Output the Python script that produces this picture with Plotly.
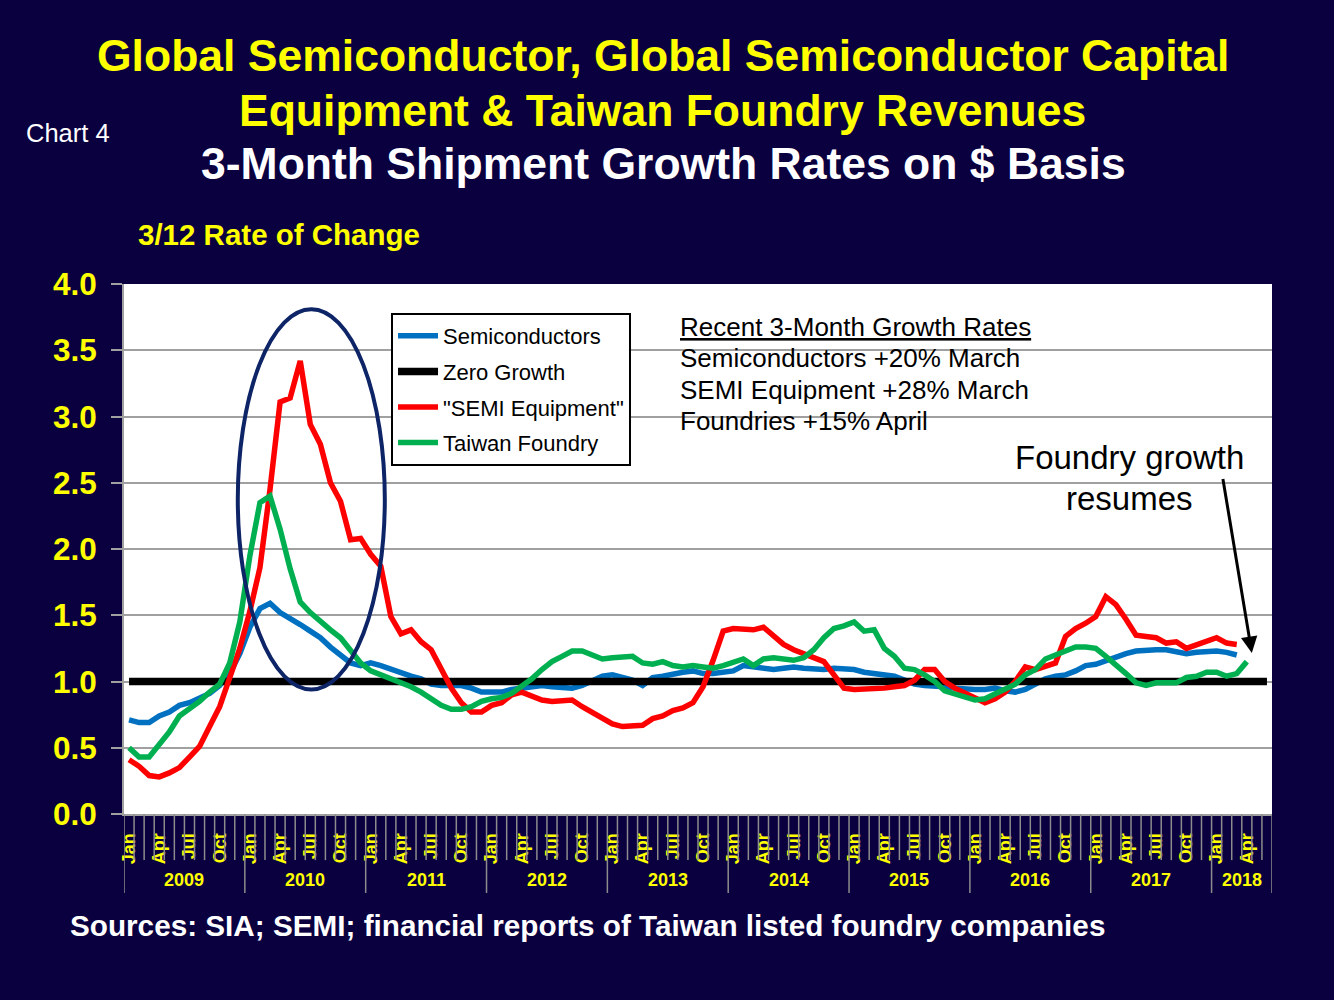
import plotly.graph_objects as go

# ---------------- data ----------------
years = [2009, 2010, 2011, 2012, 2013, 2014, 2015, 2016, 2017, 2018]
month_names = ["Jan", "Feb", "Mar", "Apr", "May", "Jun", "Jul", "Aug", "Sep", "Oct", "Nov", "Dec"]
months_2018 = 6  # axis runs Jan 2009 .. Jun 2018
months = [f"{m} {y}" for y in years for m in (month_names if y < 2018 else month_names[:months_2018])]
labelled_months = ["Jan", "Apr", "Jul", "Oct"]

semiconductors = [
    0.71, 0.69, 0.69, 0.74, 0.77, 0.82, 0.84, 0.87, 0.91, 0.97, 1.06, 1.21,
    1.41, 1.55, 1.59, 1.52, 1.48, 1.43, 1.38, 1.33, 1.26, 1.20, 1.14, 1.12,
    1.14, 1.12, 1.09, 1.06, 1.04, 1.02, 0.98, 0.97, 0.97, 0.97, 0.95, 0.92,
    0.92, 0.92, 0.94, 0.95, 0.96, 0.97, 0.96, 0.96, 0.95, 0.97, 1.01, 1.04,
    1.05, 1.03, 1.01, 0.97, 1.03, 1.04, 1.06, 1.07, 1.08, 1.06, 1.06, 1.07,
    1.08, 1.12, 1.11, 1.11, 1.09, 1.10, 1.11, 1.10, 1.09, 1.09, 1.10, 1.10,
    1.09, 1.07, 1.06, 1.06, 1.04, 1.01, 0.98, 0.97, 0.97, 0.96, 0.95, 0.94,
    0.94, 0.94, 0.95, 0.93, 0.92, 0.94, 0.98, 1.02, 1.04, 1.05, 1.08, 1.12,
    1.13, 1.16, 1.19, 1.21, 1.23, 1.24, 1.24, 1.24, 1.22, 1.21, 1.22, 1.23,
    1.23, 1.22, 1.20,
]

semi_equipment = [
    0.41, 0.36, 0.29, 0.28, 0.31, 0.35, 0.43, 0.51, 0.66, 0.81, 1.03, 1.25,
    1.53, 1.86, 2.45, 3.11, 3.14, 3.42, 2.94, 2.79, 2.50, 2.36, 2.07, 2.08,
    1.96, 1.87, 1.49, 1.36, 1.39, 1.30, 1.24, 1.09, 0.95, 0.84, 0.77, 0.77,
    0.82, 0.84, 0.90, 0.92, 0.89, 0.86, 0.85, 0.85, 0.86, 0.81, 0.77, 0.72,
    0.68, 0.66, 0.67, 0.67, 0.72, 0.74, 0.78, 0.80, 0.84, 0.96, 1.16, 1.38,
    1.40, 1.39, 1.39, 1.41, 1.34, 1.28, 1.24, 1.21, 1.17, 1.15, 1.05, 0.95,
    0.94, 0.94, 0.95, 0.95, 0.96, 0.97, 1.01, 1.09, 1.09, 1.00, 0.95, 0.91,
    0.87, 0.84, 0.87, 0.92, 1.00, 1.11, 1.09, 1.12, 1.14, 1.34, 1.40, 1.44,
    1.49, 1.64, 1.58, 1.47, 1.35, 1.34, 1.33, 1.29, 1.30, 1.25, 1.28, 1.31,
    1.33, 1.29, 1.28,
]

taiwan_foundry = [
    0.50, 0.43, 0.43, 0.52, 0.62, 0.74, 0.79, 0.85, 0.92, 0.98, 1.14, 1.45,
    1.95, 2.35, 2.40, 2.15, 1.85, 1.60, 1.52, 1.45, 1.39, 1.33, 1.23, 1.14,
    1.08, 1.05, 1.03, 0.99, 0.96, 0.92, 0.87, 0.82, 0.79, 0.79, 0.81, 0.85,
    0.87, 0.88, 0.91, 0.96, 1.02, 1.09, 1.15, 1.19, 1.23, 1.23, 1.20, 1.17,
    1.18, 1.18, 1.19, 1.14, 1.13, 1.15, 1.12, 1.11, 1.12, 1.11, 1.10, 1.12,
    1.14, 1.17, 1.12, 1.17, 1.18, 1.17, 1.16, 1.18, 1.24, 1.33, 1.40, 1.42,
    1.45, 1.38, 1.39, 1.25, 1.19, 1.10, 1.09, 1.05, 1.00, 0.93, 0.91, 0.89,
    0.86, 0.87, 0.91, 0.94, 0.98, 1.05, 1.09, 1.17, 1.20, 1.24, 1.26, 1.26,
    1.25, 1.19, 1.13, 1.06, 0.99, 0.97, 0.99, 0.99, 0.99, 1.03, 1.04, 1.07,
    1.07, 1.04, 1.06, 1.15,
]

zero_growth = [1.0] * len(months)

y_ticks = [0.0, 0.5, 1.0, 1.5, 2.0, 2.5, 3.0, 3.5, 4.0]

# ---------------- styling ----------------
BG = "#0a0040"
YELLOW = "#ffff00"
GRAY = "#a0a0a0"
FONT = "Liberation Sans, Arial, sans-serif"

idx = list(range(len(months)))

fig = go.Figure()
series = [
    ("Semiconductors", semiconductors, "#0070c0", 5.5),
    ("Zero Growth", zero_growth, "#000000", 7.5),
    ('"SEMI Equipment"', semi_equipment, "#ff0000", 5.5),
    ("Taiwan Foundry", taiwan_foundry, "#00b050", 5.5),
]
for name, vals, color, w in series:
    fig.add_trace(go.Scatter(
        x=idx[:len(vals)], y=vals, mode="lines", name=name,
        legendgroup=name,
        line=dict(color=color, width=w),
        hoverinfo="skip",
    ))

# tick labels on x axis (every 3rd month)
tickvals = [i for i, m in enumerate(months) if m.split()[0] in labelled_months]
ticktext = [months[i].split()[0] for i in tickvals]

# month boundary marks and year separators below the axis
shapes = []
n = len(months)
for k in range(n + 1):
    is_year = (k % 12 == 0) or (k == n)
    shapes.append(dict(
        type="line", xref="x", yref="paper",
        x0=k - 0.5, x1=k - 0.5, y0=0, y1=(-0.149 if is_year else -0.087),
        line=dict(color="#8c8c8c", width=1.5), layer="above",
    ))

# ellipse highlighting the 2010 peak
shapes.append(dict(
    type="circle", xref="x", yref="y",
    x0=10.8, x1=25.4, y0=0.94, y1=3.81,
    line=dict(color="#0d2466", width=4),
))

annotations = []
# year labels
for y in years:
    members = [i for i, m in enumerate(months) if m.endswith(str(y))]
    annotations.append(dict(
        x=(members[0] + members[-1]) / 2, y=-0.1245, xref="x", yref="paper",
        text=f"<b>{y}</b>", showarrow=False, yanchor="middle",
        font=dict(family=FONT, size=18, color=YELLOW),
    ))

# titles
annotations += [
    dict(x=0.4695, y=1.4302, xref="paper", yref="paper", showarrow=False,
         text="<b>Global Semiconductor, Global Semiconductor Capital</b>",
         font=dict(family=FONT, size=44.5, color=YELLOW), yanchor="middle"),
    dict(x=0.4695, y=1.3283, xref="paper", yref="paper", showarrow=False,
         text="<b>Equipment &amp; Taiwan Foundry Revenues</b>",
         font=dict(family=FONT, size=44.5, color=YELLOW), yanchor="middle"),
    dict(x=0.470, y=1.2283, xref="paper", yref="paper", showarrow=False,
         text="<b>3-Month Shipment Growth Rates on $ Basis</b>",
         font=dict(family=FONT, size=44.5, color="#ffffff"), yanchor="middle"),
    dict(x=-0.0871, y=1.2849, xref="paper", yref="paper", showarrow=False,
         text="Chart 4", xanchor="left", yanchor="middle",
         font=dict(family=FONT, size=25.5, color="#ffffff")),
    dict(x=0.0105, y=1.0925, xref="paper", yref="paper", showarrow=False,
         text="<b>3/12 Rate of Change</b>", xanchor="left", yanchor="middle",
         font=dict(family=FONT, size=29.5, color=YELLOW)),
    dict(x=-0.0488, y=-0.2113, xref="paper", yref="paper", showarrow=False,
         text="<b>Sources: SIA; SEMI; financial reports of Taiwan listed foundry companies</b>",
         xanchor="left", yanchor="middle",
         font=dict(family=FONT, size=29.7, color="#ffffff")),
]

# recent growth rates text block
recent_lines = [
    ("<u>Recent 3-Month Growth Rates</u>", 0.9189),
    ("Semiconductors +20% March", 0.8604),
    ("SEMI Equipment +28% March", 0.8000),
    ("Foundries +15% April", 0.7415),
]
for txt, yy in recent_lines:
    annotations.append(dict(
        x=0.4826, y=yy, xref="paper", yref="paper", showarrow=False,
        text=txt, xanchor="left", yanchor="middle",
        font=dict(family=FONT, size=26, color="#000000"),
    ))

for txt, yy in [("Foundry growth", 0.6717), ("resumes", 0.5962)]:
    annotations.append(dict(
        x=0.8763, y=yy, xref="paper", yref="paper", showarrow=False,
        text=txt, xanchor="center", yanchor="middle",
        font=dict(family=FONT, size=33, color="#000000"),
    ))
# arrow to the latest foundry point
annotations.append(dict(
    x=111.5, y=1.215, xref="x", yref="y",
    ax=108.6, ay=2.54, axref="x", ayref="y",
    text="", showarrow=True, arrowhead=2, arrowsize=1.1,
    arrowwidth=3, arrowcolor="#000000",
))

fig.update_layout(
    width=1334, height=1000,
    margin=dict(l=124, r=62, t=284, b=186),
    paper_bgcolor=BG, plot_bgcolor="#ffffff",
    showlegend=True,
    legend=dict(
        x=0.2326, y=0.9453, xanchor="left", yanchor="top",
        bgcolor="#ffffff", bordercolor="#000000", borderwidth=2,
        font=dict(family=FONT, size=22, color="#000000"),
        tracegroupgap=4, itemwidth=40,
    ),
    xaxis=dict(
        range=[-0.5, n - 0.5], tickmode="array",
        tickvals=tickvals, ticktext=ticktext, tickangle=-90,
        tickfont=dict(family=FONT, size=18, color=YELLOW, weight="bold"),
        ticks="outside", ticklen=10, tickcolor="rgba(0,0,0,0)",
        showgrid=False, zeroline=False,
        showline=True, linecolor=GRAY, linewidth=2,
    ),
    yaxis=dict(
        range=[0, 4], tickmode="array", tickvals=y_ticks,
        ticktext=[f"{v:.1f}" for v in y_ticks],
        tickfont=dict(family=FONT, size=31.5, color=YELLOW, weight="bold"),
        ticks="outside", ticklen=11, tickcolor=GRAY, tickwidth=1.5,
        ticklabelstandoff=8,
        showgrid=True, gridcolor=GRAY, gridwidth=1.5,
        zeroline=False, showline=True, linecolor=GRAY, linewidth=2,
    ),
    shapes=shapes,
    annotations=annotations,
)

fig.write_html("out.html")
